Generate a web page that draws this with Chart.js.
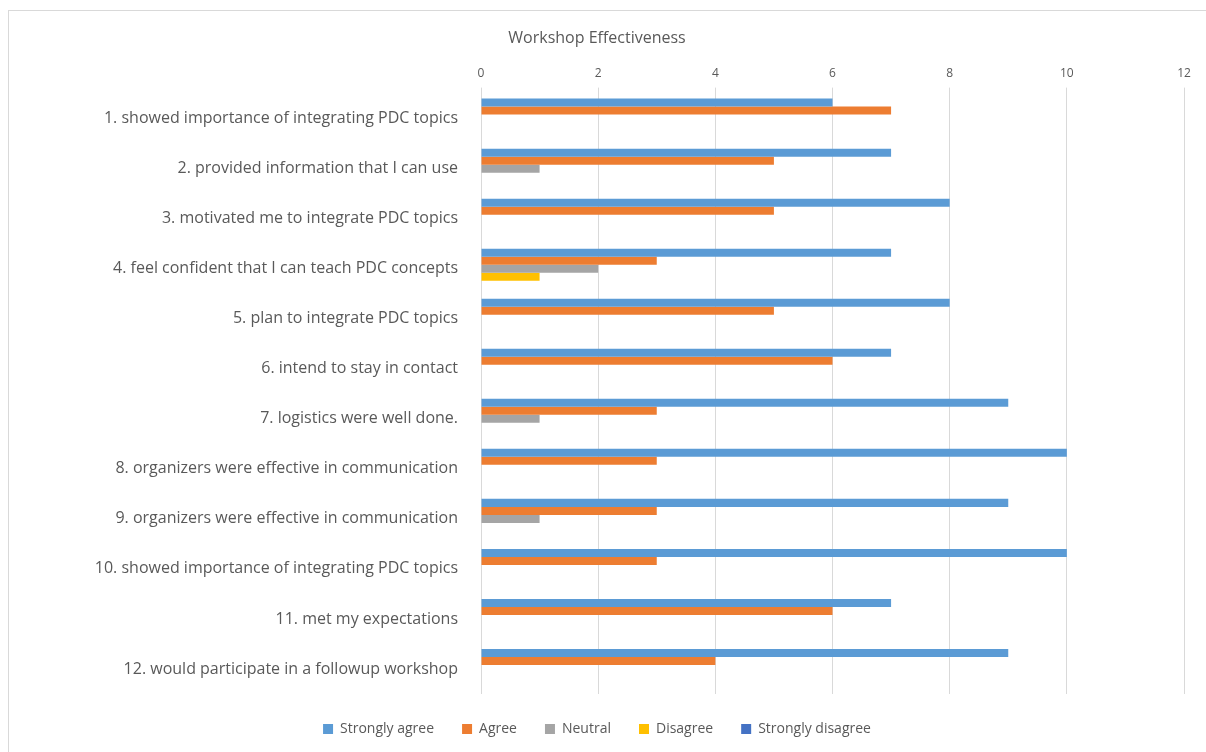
<!DOCTYPE html>
<html lang="en">
<head>
    <meta charset="UTF-8">
    <title>Workshop Effectiveness</title>
    <script src="https://cdn.jsdelivr.net/npm/chart.js"></script>
    <style>
        body { margin: 0; background: white; overflow: hidden; }
        .frame { position: absolute; left: 8px; top: 10px; width: 1300px; height: 800px; border: 1px solid #d9d9d9; }
        #chart { position: absolute; left: 0; top: 0; }
    </style>
</head>
<body>
    <div class="frame"></div>
    <canvas id="chart" width="1206" height="752"></canvas>

    <script>
        const statements = [
            "1. showed importance of integrating PDC topics",
            "2. provided information that I can use",
            "3. motivated me to integrate PDC topics",
            "4. feel confident that I can teach PDC concepts",
            "5. plan to integrate PDC topics",
            "6. intend to stay in contact",
            "7. logistics were well done.",
            "8. organizers were effective in communication",
            "9. organizers were effective in communication",
            "10. showed importance of integrating PDC topics",
            "11. met my expectations",
            "12. would participate in a followup workshop"
        ];
        const stronglyAgree    = [6, 7, 8, 7, 8, 7, 9, 10, 9, 10, 7, 9];
        const agree            = [7, 5, 5, 3, 5, 6, 3, 3, 3, 3, 6, 4];
        const neutral          = [0, 1, 0, 2, 0, 0, 1, 0, 1, 0, 0, 0];
        const disagree         = [0, 0, 0, 1, 0, 0, 0, 0, 0, 0, 0, 0];
        const stronglyDisagree = [0, 0, 0, 0, 0, 0, 0, 0, 0, 0, 0, 0];

        const textColor = "#595959";
        const fontFamily = "'Open Sans', sans-serif";

        function series(label, data, color) {
            return { label: label, data: data, backgroundColor: color, borderWidth: 0,
                     categoryPercentage: 0.8, barPercentage: 1.0 };
        }

        new Chart(document.getElementById("chart"), {
            type: "bar",
            data: {
                labels: statements,
                datasets: [
                    series("Strongly agree", stronglyAgree, "#5B9BD5"),
                    series("Agree", agree, "#ED7D31"),
                    series("Neutral", neutral, "#A5A5A5"),
                    series("Disagree", disagree, "#FFC000"),
                    series("Strongly disagree", stronglyDisagree, "#4472C4")
                ]
            },
            options: {
                indexAxis: "y",
                responsive: false,
                animation: false,
                layout: { padding: { left: 10, right: 22, top: 29, bottom: 6 } },
                plugins: {
                    title: {
                        display: true,
                        text: "Workshop Effectiveness",
                        color: textColor,
                        font: { family: fontFamily, size: 16, weight: "normal" },
                        padding: { top: 0, bottom: 11 }
                    },
                    legend: {
                        position: "bottom",
                        labels: {
                            color: textColor,
                            boxWidth: 10,
                            boxHeight: 10,
                            padding: 28,
                            font: { family: fontFamily, size: 14 }
                        }
                    },
                    tooltip: { enabled: false }
                },
                scales: {
                    x: {
                        position: "top",
                        min: 0,
                        max: 12,
                        ticks: { stepSize: 2, color: textColor, font: { family: fontFamily, size: 12 }, padding: 7 },
                        grid: { color: "#d9d9d9", drawTicks: true, tickLength: 6 },
                        border: { display: false }
                    },
                    y: {
                        ticks: { color: textColor, font: { family: fontFamily, size: 16 }, padding: 15 },
                        grid: { display: false },
                        border: { display: false },
                        afterFit: function (scale) { scale.width = 471; }
                    }
                }
            }
        });
    </script>
</body>
</html>
